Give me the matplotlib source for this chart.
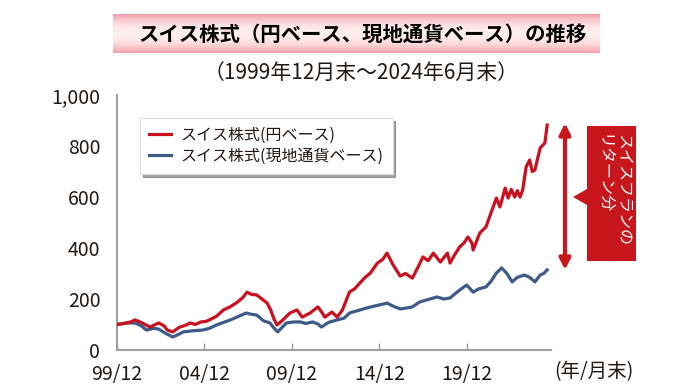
import numpy as np
import matplotlib
matplotlib.use("Agg")
import matplotlib.pyplot as plt
from matplotlib.patches import Polygon

plt.rcParams['font.family'] = ['Noto Sans CJK JP', 'DejaVu Sans']

# データ（1999年12月末=100、小数年で表記）
red_t = [1999.92, 2000.3, 2000.7, 2000.95, 2001.3, 2001.8, 2002.3, 2002.6, 2002.8, 2003.1,
         2003.5, 2003.8, 2004.1, 2004.4, 2004.7, 2005.0, 2005.2, 2005.6, 2006.0, 2006.4,
         2006.8, 2007.1, 2007.35, 2007.6, 2007.9, 2008.2, 2008.5, 2008.7, 2008.9, 2009.06,
         2009.4, 2009.8, 2010.2, 2010.5, 2010.95, 2011.4, 2011.6, 2011.8, 2012.2, 2012.5,
         2012.8, 2013.2, 2013.5, 2013.8, 2014.1, 2014.4, 2014.8, 2015.1, 2015.35, 2015.7,
         2016.1, 2016.4, 2016.8, 2017.1, 2017.4, 2017.7, 2018.0, 2018.2, 2018.4, 2018.8,
         2018.95, 2019.2, 2019.5, 2019.75, 2019.97, 2020.2, 2020.27, 2020.65, 2021.0, 2021.35,
         2021.6, 2021.8, 2022.1, 2022.27, 2022.45, 2022.65, 2022.8, 2022.95, 2023.1, 2023.3,
         2023.5, 2023.65, 2023.8, 2024.1, 2024.37, 2024.5]
red_v = [100, 104, 110, 118, 108, 90, 106, 95, 78, 71,
         90, 96, 106, 100, 110, 112, 118, 132, 157, 170,
         188, 205, 227, 218, 216, 200, 184, 157, 120, 98,
         118, 145, 157, 129, 145, 169, 150, 129, 149, 129,
         157, 227, 240, 263, 285, 302, 341, 355, 380, 333,
         290, 300, 282, 322, 365, 350, 380, 362, 345, 380,
         341, 372, 404, 420, 443, 420, 392, 459, 482, 549,
         596, 561, 635, 596, 630, 600, 625, 600, 627, 718,
         745, 700, 706, 792, 812, 882]

blue_t = [1999.92, 2000.5, 2000.95, 2001.3, 2001.6, 2002.0, 2002.3, 2002.7, 2003.1, 2003.4,
          2003.7, 2004.2, 2004.8, 2005.2, 2005.6, 2006.0, 2006.4, 2006.8, 2007.3, 2007.6,
          2007.9, 2008.3, 2008.66, 2008.9, 2009.1, 2009.3, 2009.6, 2010.0, 2010.4, 2010.7,
          2011.1, 2011.4, 2011.6, 2012.0, 2012.5, 2012.9, 2013.2, 2013.7, 2014.2, 2014.8,
          2015.35, 2015.7, 2016.1, 2016.5, 2016.8, 2017.2, 2017.7, 2018.2, 2018.6, 2018.95,
          2019.4, 2019.9, 2020.27, 2020.6, 2021.0, 2021.3, 2021.6, 2021.9, 2022.2, 2022.5,
          2022.8, 2023.2, 2023.5, 2023.8, 2024.1, 2024.3, 2024.5]
blue_v = [100, 106, 106, 95, 78, 85, 82, 65, 51, 60,
          71, 75, 78, 85, 98, 108, 118, 130, 145, 140,
          137, 114, 106, 85, 71, 85, 106, 110, 110, 104,
          110, 102, 90, 108, 118, 125, 145, 155, 165, 175,
          184, 172, 161, 165, 169, 188, 198, 208, 200, 204,
          230, 255, 227, 240, 247, 270, 302, 322, 300, 267,
          285, 294, 285, 267, 294, 300, 314]

tick_pos = [1999.917, 2004.917, 2009.917, 2014.917, 2019.917]
tick_labels = ['99/12', '04/12', '09/12', '14/12', '19/12']
y_ticks = [0, 200, 400, 600, 800, 1000]
y_labels = ['0', '200', '400', '600', '800', '1,000']

RED = '#c8101e'
BLUE = '#3e5a89'
TXT = '#231815'

W, H = 700, 392


def fx(x):
    return x / W


def fy(y):
    return 1 - y / H


fig = plt.figure(figsize=(7, 3.92), dpi=100)

# タイトル帯（ピンクのグラデーション）
band = fig.add_axes([fx(113), fy(53), (600 - 113) / W, 39 / H])
prof = np.abs(np.linspace(-1, 1, 60)) ** 2.2
light = np.array([1.0, 0.93, 0.93])
dark = np.array([0.95, 0.62, 0.66])
grad = light[None, :] * (1 - prof[:, None]) + dark[None, :] * prof[:, None]
band.imshow(np.repeat(grad[:, None, :], 2, axis=1), aspect='auto', extent=[0, 1, 0, 1])
band.axis('off')
fig.text(fx(363), fy(34), 'スイス株式（円ベース、現地通貨ベース）の推移', ha='center', va='center',
         fontsize=14.7, fontweight='bold', color='black')
fig.text(fx(361), fy(73), '（1999年12月末～2024年6月末）', ha='center', va='center',
         fontsize=15, color=TXT)

# グラフ本体
ax = fig.add_axes([fx(117), fy(350), (551 - 117) / W, (350 - 95) / H])
ax.plot(blue_t, blue_v, color=BLUE, lw=2.3, label='スイス株式(現地通貨ベース)', zorder=3)
ax.plot(red_t, red_v, color=RED, lw=2.3, label='スイス株式(円ベース)', zorder=4)

ax.set_xlim(1999.917, 2024.72)
ax.set_ylim(0, 1000)
ax.set_xticks(tick_pos)
ax.set_xticklabels(tick_labels)
ax.set_yticks(y_ticks)
ax.set_yticklabels(y_labels)
ax.tick_params(axis='y', length=0, pad=12, labelsize=14, labelcolor=TXT)
ax.tick_params(axis='x', direction='in', length=5, width=1, color='#999999', pad=10,
               labelsize=14, labelcolor=TXT)
for s in ['top', 'right']:
    ax.spines[s].set_visible(False)
for s in ['left', 'bottom']:
    ax.spines[s].set_color('#a0a0a0')
    ax.spines[s].set_linewidth(1.5)

handles, labels = ax.get_legend_handles_labels()
leg = ax.legend(handles[::-1], labels[::-1], loc='upper left', bbox_to_anchor=(0.035, 0.94),
                fontsize=11.5, frameon=True, fancybox=False, shadow=True, handlelength=1.4,
                handletextpad=0.6, borderpad=0.55, labelspacing=0.25, labelcolor=TXT)
leg.get_frame().set_edgecolor('#dddddd')
leg.get_frame().set_linewidth(0.8)

fig.text(fx(594), fy(372), '(年/月末)', ha='center', va='center', fontsize=14, color=TXT)

# スイスフランのリターン分（矢印と吹き出し）
ax.annotate('', xy=(2025.52, 890), xytext=(2025.52, 314), xycoords='data',
            annotation_clip=False,
            arrowprops=dict(arrowstyle='<|-|>', color='#c8161d', lw=3, mutation_scale=16,
                            shrinkA=0, shrinkB=0))
box = Polygon([(fx(587), fy(126)), (fx(636), fy(126)), (fx(636), fy(261)), (fx(587), fy(261)),
               (fx(587), fy(205)), (fx(573), fy(197)), (fx(587), fy(189))],
              closed=True, transform=fig.transFigure, facecolor='#c8161d', edgecolor='none')
fig.add_artist(box)
fig.text(fx(623), fy(134), 'スイスフランの', rotation=270, ha='center', va='top',
         fontsize=11.5, color='white')
fig.text(fx(603), fy(134), 'リターン分', rotation=270, ha='center', va='top',
         fontsize=11.5, color='white')

fig.savefig('out.png', dpi=100)
